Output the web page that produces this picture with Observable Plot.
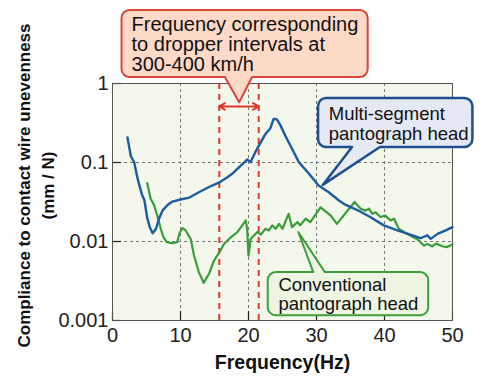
<!DOCTYPE html>
<html><head><meta charset="utf-8">
<script src="https://cdn.jsdelivr.net/npm/d3@7"></script>
<script src="https://cdn.jsdelivr.net/npm/@observablehq/plot@0.6"></script>
<style>body{margin:0;background:#fff} svg{display:block}</style>
</head><body><div id="chart"></div>
<script>
// ---- data ----
const blueFreq = [2.2,2.7,3.2,3.7,4.3,4.7,5.1,5.5,5.9,6.4,6.9,7.4,8.1,8.8,10.0,11.3,12.7,14.2,15.7,16.9,17.6,18.6,19.8,20.3,21.0,21.8,22.5,23.2,23.7,24.2,24.7,25.4,26.4,27.4,28.9,30.3,31.8,33.3,34.3,36.0,37.9,39.9,41.9,43.8,45.3,46.3,46.8,47.8,49.0,50.0];
const blueVal  = [0.207,0.12,0.1,0.062,0.040,0.033,0.020,0.015,0.0127,0.0145,0.020,0.025,0.029,0.032,0.034,0.036,0.042,0.049,0.056,0.065,0.072,0.087,0.109,0.101,0.135,0.18,0.23,0.27,0.357,0.35,0.295,0.22,0.149,0.101,0.072,0.051,0.042,0.033,0.029,0.025,0.0204,0.016,0.0138,0.0122,0.011,0.012,0.0108,0.0125,0.0138,0.0152];
const greenFreq = [5.1,5.6,6.1,6.6,7.1,7.5,8.0,8.8,9.5,9.9,10.3,10.7,11.5,12.0,12.7,13.4,14.2,14.9,15.6,16.4,17.4,18.3,19.1,19.6,19.8,20.0,20.3,20.8,21.3,21.8,22.5,23.0,23.5,24.0,24.5,25.0,25.9,26.4,27.2,27.6,28.4,29.1,29.6,30.6,32.1,33.0,35.6,36.5,37.2,37.7,38.2,38.7,39.4,40.1,40.9,41.4,42.1,43.3,44.8,45.3,45.8,46.3,47.0,47.6,48.5,49.2,50.0];
const greenVal  = [0.055,0.035,0.029,0.021,0.0145,0.0113,0.0098,0.0095,0.0098,0.013,0.0148,0.014,0.0108,0.0066,0.0041,0.0030,0.0039,0.0057,0.007,0.0093,0.0113,0.013,0.016,0.0185,0.0145,0.0066,0.0107,0.0119,0.0132,0.0122,0.0145,0.0138,0.016,0.0145,0.0167,0.0145,0.0224,0.0152,0.0176,0.016,0.0194,0.0176,0.0204,0.027,0.0213,0.0167,0.0316,0.026,0.0246,0.026,0.0224,0.0235,0.0204,0.0213,0.0185,0.0194,0.0145,0.0125,0.0107,0.0098,0.0089,0.0093,0.0087,0.0094,0.0087,0.0085,0.0092];
const xTicks = [0,10,20,30,40,50];
const xTickLabels = ["0","10","20","30","40","50"];
const yTicks = [0.001,0.01,0.1,1];
const yTickLabels = ["0.001","0.01","0.1","1"];
const gridX = [10,20,30,40];
const gridY = [0.01,0.1];
const dropperBand = [15.7,21.5];
const xLabel = "Frequency(Hz)";
const yLabel1 = "Compliance to contact wire unevenness";
const yLabel2 = "(mm / N)";

const blue = blueFreq.map((f,i)=>({f, v: blueVal[i]}));
const green = greenFreq.map((f,i)=>({f, v: greenVal[i]}));

// ---- annotations (data coordinates) ----
const callouts = [
  {text:"Frequency corresponding\nto dropper intervals at\n300-400 km/h", x1:1.4, x2:37.6, yTop:8.4, yBottom:1.19, side:"bottom", pa:16.6, pb:20.6, tipX:18.7, tipY:0.57, tx:2.8, ty:6.9, fs:20, lh:1.0, fill:"#fdd9c8", stroke:"#d9463a", sw:2},
  {text:"Multi-segment\npantograph head", x1:30.3, x2:53.0, yTop:0.646, yBottom:0.155, side:"bottom", pa:35.3, pb:39.4, tipX:31.0, tipY:0.0513, tx:31.8, ty:0.51, fs:18.5, lh:1.05, fill:"#e5e9f3", stroke:"#1f4f8c", sw:2.5},
  {text:"Conventional\npantograph head", x1:22.9, x2:46.5, yTop:0.00404, yBottom:0.00115, side:"top", pa:29.6, pb:31.3, tipX:27.4, tipY:0.013, tx:24.4, ty:0.00355, fs:18.5, lh:1.05, fill:"#eef5e2", stroke:"#3d9e3d", sw:2}
];
const arrowY = 0.512;
const arrowMid = (dropperBand[0]+dropperBand[1])/2;

function calloutShape(c) {
  return (index, scales) => {
    const sx = scales.x, sy = scales.y;
    const x1 = sx(c.x1), x2 = sx(c.x2), yt = sy(c.yTop), yb = sy(c.yBottom);
    const pa = sx(c.pa), pb = sx(c.pb), tx = sx(c.tipX), ty = sy(c.tipY);
    const r = 8;
    let d;
    if (c.side === "bottom") {
      d = `M${x1+r},${yt}H${x2-r}A${r},${r} 0 0 1 ${x2},${yt+r}V${yb-r}A${r},${r} 0 0 1 ${x2-r},${yb}H${pb}L${tx},${ty}L${pa},${yb}H${x1+r}A${r},${r} 0 0 1 ${x1},${yb-r}V${yt+r}A${r},${r} 0 0 1 ${x1+r},${yt}Z`;
    } else {
      d = `M${x1+r},${yt}H${pa}L${tx},${ty}L${pb},${yt}H${x2-r}A${r},${r} 0 0 1 ${x2},${yt+r}V${yb-r}A${r},${r} 0 0 1 ${x2-r},${yb}H${x1+r}A${r},${r} 0 0 1 ${x1},${yb-r}V${yt+r}A${r},${r} 0 0 1 ${x1+r},${yt}Z`;
    }
    const p = document.createElementNS("http://www.w3.org/2000/svg","path");
    p.setAttribute("d", d);
    p.setAttribute("fill", c.fill);
    p.setAttribute("stroke", c.stroke);
    p.setAttribute("stroke-width", c.sw);
    p.setAttribute("stroke-linejoin", "round");
    return p;
  };
}

const W = 500, H = 383, mL = 112, mR = 48, mT = 83, mB = 63;
const pw = W - mL - mR, ph = H - mT - mB;

const marks = [
  Plot.frame({fill:"#f4f7ec", stroke:null}),
  Plot.ruleX(gridX, {stroke:"#777", strokeWidth:1, strokeDasharray:"3,3"}),
  Plot.ruleY(gridY, {stroke:"#777", strokeWidth:1, strokeDasharray:"3,3"}),
  Plot.tickY(yTicks, {y:d=>d, stroke:"#222", strokeWidth:1.2, insetRight: pw-9}),
  Plot.tickX(xTicks, {x:d=>d, stroke:"#222", strokeWidth:1.2, insetTop: ph-9}),
  Plot.frame({stroke:"#555", strokeWidth:1}),
  Plot.ruleX(dropperBand, {stroke:"#e0392b", strokeWidth:2, strokeDasharray:"6,5"}),
  Plot.line(green, {x:"f", y:"v", stroke:"#3a9c3a", strokeWidth:2.2}),
  Plot.line(blue, {x:"f", y:"v", stroke:"#1d5c9f", strokeWidth:2.4}),
  Plot.arrow([{a:arrowMid,b:dropperBand[0]},{a:arrowMid,b:dropperBand[1]}], {x1:"a", x2:"b", y1:()=>arrowY, y2:()=>arrowY, stroke:"#e0392b", strokeWidth:2, headLength:9}),
  ...callouts.map(c => calloutShape(c)),
  ...callouts.map(c => Plot.text([c], {x:"tx", y:"ty", text:"text", textAnchor:"start", lineAnchor:"top", fontSize:c.fs, lineHeight:c.lh, fill:"#111"})),
  Plot.axisX({ticks:xTicks, tickFormat:d=>xTickLabels[xTicks.indexOf(d)], tickSize:0, tickPadding:7, fontSize:20, label:null, fill:"#222"}),
  Plot.axisY({ticks:yTicks, tickFormat:d=>yTickLabels[yTicks.indexOf(d)], tickSize:0, tickPadding:4, fontSize:20, label:null, fill:"#222"}),
  Plot.text([xLabel], {frameAnchor:"bottom", textAnchor:"middle", dy:48, fontSize:19.5, fontWeight:"bold", fill:"#111"}),
  Plot.text([yLabel1], {frameAnchor:"left", textAnchor:"middle", rotate:-90, dx:-88, dy:-16.5, fontSize:17, fontWeight:"bold", fill:"#111"}),
  Plot.text([yLabel2], {frameAnchor:"left", textAnchor:"middle", rotate:-90, dx:-64, dy:-16.5, fontSize:17, fontWeight:"bold", fill:"#111"})
];

const chart = Plot.plot({
  width: W, height: H,
  marginLeft: mL, marginRight: mR, marginTop: mT, marginBottom: mB,
  style: {fontFamily: "Arial, 'Liberation Sans', sans-serif", background: "#fff", overflow: "visible"},
  x: {domain:[0,50]},
  y: {type:"log", domain:[0.001,1]},
  marks
});
document.getElementById("chart").appendChild(chart);
</script>
</body></html>
